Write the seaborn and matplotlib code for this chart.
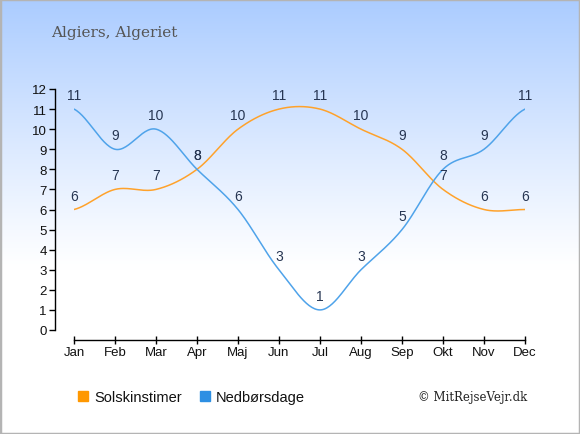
import numpy as np
import seaborn as sns
import matplotlib.pyplot as plt
from matplotlib.lines import Line2D

# Data
months = ["Jan", "Feb", "Mar", "Apr", "Maj", "Jun", "Jul", "Aug", "Sep", "Okt", "Nov", "Dec"]
sun_hours = [6, 7, 7, 8, 10, 11, 11, 10, 9, 7, 6, 6]
rain_days = [11, 9, 10, 8, 6, 3, 1, 3, 5, 8, 9, 11]

ORANGE = "#ffa22b"
BLUE = "#4fa3ea"
ORANGE_SQ = "#ff9800"
BLUE_SQ = "#2d8fe3"
LABEL_COL = "#263552"

sns.set_theme(style="white")
plt.rcParams['font.family'] = ['Liberation Sans', 'DejaVu Sans']


def smooth(y, n=30):
    # catmull-rom style curve through the points
    y = np.asarray(y, dtype=float)
    p = np.concatenate([[y[0]], y, [y[-1]]])
    xs, ys = [], []
    for i in range(len(y) - 1):
        p0, p1, p2, p3 = p[i], p[i + 1], p[i + 2], p[i + 3]
        m1 = (p2 - p0) / 2
        m2 = (p3 - p1) / 2
        t = np.linspace(0, 1, n, endpoint=(i == len(y) - 2))
        h00 = 2 * t**3 - 3 * t**2 + 1
        h10 = t**3 - 2 * t**2 + t
        h01 = -2 * t**3 + 3 * t**2
        h11 = t**3 - t**2
        xs.append(i + t)
        ys.append(h00 * p1 + h10 * m1 + h01 * p2 + h11 * m2)
    return np.concatenate(xs), np.concatenate(ys)


W, H = 580, 435
fig = plt.figure(figsize=(W / 100, H / 100), dpi=100)

# gradient background
bg = fig.add_axes([0, 0, 1, 1], zorder=-10)
grad = np.linspace(0, 1, 256)
top = np.array([0.67, 0.80, 1.0])
img = np.ones((256, 1, 3))
frac = np.clip(1 - grad / 0.62, 0, 1)[:, None] ** 1.1
img[:, 0, :] = 1 - frac * (1 - top)
bg.imshow(img, aspect="auto", extent=[0, 1, 0, 1], origin="upper")
bg.set_xlim(0, 1)
bg.set_ylim(0, 1)
bg.axis("off")
bg.add_patch(plt.Rectangle((0, 0), 1, 1, fill=False, edgecolor="#b4b4b4", lw=2.5,
                           transform=bg.transAxes))

# main axes: Jan at x=74, Dec at x=525, y=0 at 331, y=12 at 90
ax = fig.add_axes([74 / W, 1 - 331 / H, (525 - 74) / W, (331 - 90) / H])
ax.patch.set_alpha(0)
ax.set_xlim(0, 11)
ax.set_ylim(0, 12)

xs, ys = smooth(sun_hours)
sns.lineplot(x=xs, y=ys, ax=ax, color=ORANGE, lw=1.1, estimator=None, sort=False)
xs, ys = smooth(rain_days)
sns.lineplot(x=xs, y=ys, ax=ax, color=BLUE, lw=1.1, estimator=None, sort=False)

for i, v in enumerate(sun_hours):
    ax.annotate(str(v), (i, v), xytext=(0, 5), textcoords="offset points",
                ha="center", va="bottom", fontsize=10, color=LABEL_COL)
for i, v in enumerate(rain_days):
    ax.annotate(str(v), (i, v), xytext=(0, 5), textcoords="offset points",
                ha="center", va="bottom", fontsize=10, color=LABEL_COL)

ax.set_xticks(range(12))
ax.set_xticklabels(months)
ax.set_yticks(range(13))
for s in ["top", "right"]:
    ax.spines[s].set_visible(False)
ax.spines["left"].set_position(("outward", 19 * 0.72))
ax.spines["bottom"].set_position(("outward", 10 * 0.72))
for s in ["left", "bottom"]:
    ax.spines[s].set_color("black")
    ax.spines[s].set_linewidth(1.0)
ax.tick_params(axis="both", which="major", bottom=True, left=True, width=1,
               color="black", labelsize=9.5, labelcolor="#111111")
ax.tick_params(axis="y", direction="out", length=4, pad=2)
ax.tick_params(axis="x", direction="inout", length=6, pad=1)
ax.grid(False)

fig.text(51 / W, 1 - 33 / H, "Algiers, Algeriet", family="DejaVu Serif",
         fontsize=11, color="#555555", va="center", ha="left")
fig.text(527 / W, 1 - 398 / H, "\u00a9 MitRejseVejr.dk", family="DejaVu Serif",
         fontsize=8.5, color="#222222", va="center", ha="right")

handles = [Line2D([], [], marker="s", ls="", color=ORANGE_SQ, markersize=7.5),
           Line2D([], [], marker="s", ls="", color=BLUE_SQ, markersize=7.5)]
fig.legend(handles, ["Solskinstimer", "Nedb\u00f8rsdage"], loc="center left",
           bbox_to_anchor=(64 / W, 1 - 398 / H), ncol=2, frameon=False,
           fontsize=10.5, handlelength=0.8, handletextpad=0.35, columnspacing=1.2,
           labelcolor="#111111")

fig.savefig("out.png", dpi=100)
